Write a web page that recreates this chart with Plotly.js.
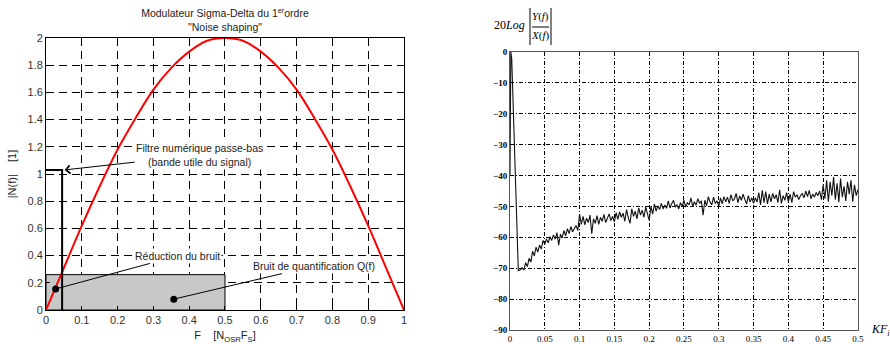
<!DOCTYPE html>
<html>
<head>
<meta charset="utf-8">
<script src="https://cdn.plot.ly/plotly-3.0.1.min.js"></script>
<style>html,body{margin:0;padding:0;background:#fff;}#chart{width:890px;height:344px;}</style>
</head>
<body>
<div id="chart"></div>
<script>
// ---- Left chart data: |N(f)| noise shaping curve ----
const curveF = [0,0.05,0.1,0.15,0.2,0.25,0.3,0.35,0.4,0.45,0.5,0.55,0.6,0.65,0.7,0.75,0.8,0.85,0.9,0.95,1];
const curveN = [0,0.31,0.62,0.91,1.18,1.41,1.62,1.78,1.90,1.98,2.0,1.98,1.90,1.78,1.62,1.41,1.18,0.91,0.62,0.31,0];
// quantization noise band (grey rectangle)
const noiseBandF = [0,0.5,0.5,0,0];
const noiseBandN = [0,0,0.26,0.26,0];
// low-pass filter outline
const filterF = [0,0.045,0.045];
const filterN = [1.03,1.03,0];
// marker dots
const dotsF = [0.027,0.357];
const dotsN = [0.155,0.08];
const leftXTicks = [0,0.1,0.2,0.3,0.4,0.5,0.6,0.7,0.8,0.9,1];
const leftYTicks = [0,0.2,0.4,0.6,0.8,1,1.2,1.4,1.6,1.8,2];

// ---- Right chart data: 20Log|Y(f)/X(f)| ----
const startKF = [0,0.0012,0.0025,0.012];
const startDB = [-40,0,-2,-70.8];
const noiseStartKF = 0.015;
const noiseStepKF = 0.0025;
const noiseDB = [
 -70.5,-69.8,-70.6,-68.2,-69.5,-66.8,-68.0,-64.5,-66.0,-63.2,-64.8,-62.5,-63.8,-61.0,
 -62.2,-60.5,-61.8,-59.8,-61.0,-59.2,-60.6,-58.5,-62.5,-59.0,-60.2,-57.8,-59.5,-57.2,-58.8,-56.5,-58.2,-57.0,-56.2,-57.8,
 -52.5,-55.8,-53.2,-56.0,-53.8,-55.2,-52.8,-58.8,-54.0,-55.5,-53.0,-55.8,-53.5,-54.8,-52.6,-55.2,-53.8,-52.4,-54.6,-53.2,
 -55.0,-52.0,-54.2,-51.8,-53.5,-52.2,-54.8,-51.0,-53.6,-55.5,-50.8,-53.2,-51.5,-54.0,-50.5,-52.8,-51.2,-53.5,-50.2,-52.0,
 -54.5,-50.0,-52.5,-49.2,-51.5,-49.8,-51.0,-49.0,-50.8,-49.5,-50.6,-48.2,-50.5,-49.0,-48.0,-50.2,-49.4,-50.8,-48.8,-50.0,
 -48.0,-50.2,-48.8,-49.5,-47.2,-50.0,-48.5,-49.6,-47.5,-49.0,-48.2,-52.8,-48.0,-49.8,-46.8,-48.6,-49.5,-47.0,-49.0,-48.2,
 -50.0,-47.2,-49.2,-46.8,-48.5,-47.0,-49.0,-46.2,-48.2,-47.6,-45.8,-48.8,-46.6,-48.0,-46.0,-47.8,-49.2,-46.5,-48.6,-47.2,
 -49.0,-47.2,-48.6,-45.5,-49.5,-44.8,-48.8,-45.2,-49.2,-46.0,-48.5,-45.8,-47.5,-46.2,-48.8,-44.6,-49.0,-46.5,-48.0,-45.5,
 -48.5,-46.0,-48.8,-45.2,-47.0,-46.2,-47.8,-46.5,-45.8,-47.2,-45.0,-46.8,-44.8,-47.5,-46.0,-47.0,-45.5,-46.5,-45.0,-47.8,
 -43.0,-47.5,-41.5,-48.5,-42.0,-46.5,-40.5,-47.8,-42.5,-48.6,-41.0,-47.0,-43.5,-48.2,-42.0,-46.0,-41.5,-48.5,-43.0,-46.5,-44.5
];
const rightXTicks = [0,0.05,0.1,0.15,0.2,0.25,0.3,0.35,0.4,0.45,0.5];
const rightYTicks = [0,-10,-20,-30,-40,-50,-60,-70,-80,-90];

const kf = startKF.slice();
const db = startDB.slice();
noiseDB.forEach((v,i)=>{ kf.push(+(noiseStartKF + i*noiseStepKF).toFixed(4)); db.push(v); });

const sans = 'Liberation Sans, Arial, sans-serif';
const serif = 'Liberation Serif, Times New Roman, serif';

const traces = [
  {x: noiseBandF, y: noiseBandN, xaxis:'x', yaxis:'y', mode:'lines', fill:'toself', fillcolor:'#c8c8c8',
   line:{color:'#000', width:1}, hoverinfo:'skip', showlegend:false},
  {x: curveF, y: curveN, xaxis:'x', yaxis:'y', mode:'lines', line:{color:'#ff0000', width:2, shape:'spline'}, showlegend:false},
  {x: filterF, y: filterN, xaxis:'x', yaxis:'y', mode:'lines', line:{color:'#000', width:2}, showlegend:false},
  {x: dotsF, y: dotsN, xaxis:'x', yaxis:'y', mode:'markers', marker:{color:'#000', size:7}, showlegend:false},
  {x: kf, y: db, xaxis:'x2', yaxis:'y2', mode:'lines', line:{color:'#111', width:1.1}, showlegend:false}
];

const layout = {
  width: 890, height: 344,
  margin: {l:0, r:0, t:0, b:0},
  paper_bgcolor: '#fff', plot_bgcolor: '#fff',
  showlegend: false,
  title: {
    text: 'Modulateur Sigma-Delta du 1<sup>er</sup>ordre<br>"Noise shaping"',
    font: {family: sans, size: 10.5, color: '#222'},
    x: 0.2528, xanchor: 'center', xref: 'paper',
    y: 1 - 17/344, yanchor: 'top', yref: 'paper'
  },
  xaxis: {
    domain: [0.0517, 0.4539], range: [0, 1], tickvals: leftXTicks,
    showline: true, linecolor: '#000', linewidth: 1, mirror: 'ticks',
    ticks: 'inside', ticklen: 4, tickcolor: '#000',
    showgrid: true, gridcolor: '#000', gridwidth: 1, griddash: '8px,5px',
    zeroline: false, tickfont: {family: sans, size: 11, color: '#333'},
    title: {text: 'F    [N<sub>OSR</sub>F<sub>S</sub>]', font: {family: sans, size: 11, color: '#222'}, standoff: 6},
    automargin: false, anchor: 'y'
  },
  yaxis: {
    domain: [0.0988, 0.8895], range: [0, 2], tickvals: leftYTicks,
    showline: true, linecolor: '#000', linewidth: 1, mirror: 'ticks',
    ticks: 'inside', ticklen: 4, tickcolor: '#000',
    showgrid: true, gridcolor: '#000', gridwidth: 1, griddash: '8px,5px',
    zeroline: false, tickfont: {family: sans, size: 11, color: '#333'},
    title: {text: '|N(f)|    [1]', font: {family: sans, size: 11, color: '#222'}, standoff: 8},
    automargin: false, anchor: 'x'
  },
  xaxis2: {
    domain: [0.5730, 0.9640], range: [0, 0.5], tickvals: rightXTicks,
    ticktext: rightXTicks.map(String),
    showline: true, linecolor: '#555', linewidth: 1, mirror: true,
    ticks: '', showgrid: true, gridcolor: '#000', gridwidth: 1, griddash: '4px,2px,1px,2px',
    zeroline: false, tickfont: {family: serif, size: 9, color: '#000'},
    automargin: false, anchor: 'y2'
  },
  yaxis2: {
    domain: [1 - 330/344, 1 - 52/344], range: [-90, 0], tickvals: rightYTicks,
    showline: true, linecolor: '#555', linewidth: 1, mirror: true,
    ticks: '', showgrid: true, gridcolor: '#000', gridwidth: 1, griddash: '4px,2px,1px,2px',
    zeroline: false, tickfont: {family: serif, size: 9, color: '#000', weight: 'bold'},
    automargin: false, anchor: 'x2'
  },
  annotations: [
    {x: 0.052, y: 1.03, xref: 'x', yref: 'y', ax: 135, ay: -15,
     text: 'Filtre numérique passe-bas<br>(bande utile du signal)', showarrow: true,
     arrowhead: 4, arrowsize: 1.6, arrowwidth: 1, arrowcolor: '#000', bgcolor: '#fff',
     font: {family: sans, size: 10.5, color: '#222'}},
    {x: 0.027, y: 0.155, xref: 'x', yref: 'y', ax: 122, ay: -33,
     text: 'Réduction du bruit', showarrow: true, arrowhead: 0, arrowwidth: 1, arrowcolor: '#000',
     bgcolor: '#fff', font: {family: sans, size: 10.5, color: '#222'}},
    {x: 0.357, y: 0.08, xref: 'x', yref: 'y', ax: 140, ay: -33,
     text: 'Bruit de quantification Q(f)', showarrow: true, arrowhead: 0, arrowwidth: 1, arrowcolor: '#000',
     bgcolor: '#fff', font: {family: sans, size: 10.5, color: '#222'}},
    {x: 509/890, y: 1 - 25/344, xref: 'paper', yref: 'paper', showarrow: false,
     text: '20<i>Log</i>', font: {family: serif, size: 12, color: '#000'}, xanchor: 'center', yanchor: 'middle'},
    {x: 540/890, y: 1 - 17/344, xref: 'paper', yref: 'paper', showarrow: false,
     text: '<i>Y</i>(<i>f</i>)', font: {family: serif, size: 11, color: '#000'}, xanchor: 'center', yanchor: 'middle'},
    {x: 540/890, y: 1 - 36/344, xref: 'paper', yref: 'paper', showarrow: false,
     text: '<i>X</i>(<i>f</i>)', font: {family: serif, size: 11, color: '#000'}, xanchor: 'center', yanchor: 'middle'},
    {x: 880/890, y: 1 - 330/344, xref: 'paper', yref: 'paper', showarrow: false,
     text: '<i>KF<sub>i</sub></i>', font: {family: serif, size: 12, color: '#000'}, xanchor: 'center', yanchor: 'middle'}
  ],
  shapes: [
    {type: 'line', xref: 'paper', yref: 'paper', x0: 530/890, x1: 530/890, y0: 1 - 8/344, y1: 1 - 45/344, line: {color: '#000', width: 1}},
    {type: 'line', xref: 'paper', yref: 'paper', x0: 551/890, x1: 551/890, y0: 1 - 8/344, y1: 1 - 45/344, line: {color: '#000', width: 1}},
    {type: 'line', xref: 'paper', yref: 'paper', x0: 532/890, x1: 549/890, y0: 1 - 27/344, y1: 1 - 27/344, line: {color: '#000', width: 1}}
  ]
};

Plotly.newPlot('chart', traces, layout, {displayModeBar: false, staticPlot: true});
</script>
</body>
</html>
